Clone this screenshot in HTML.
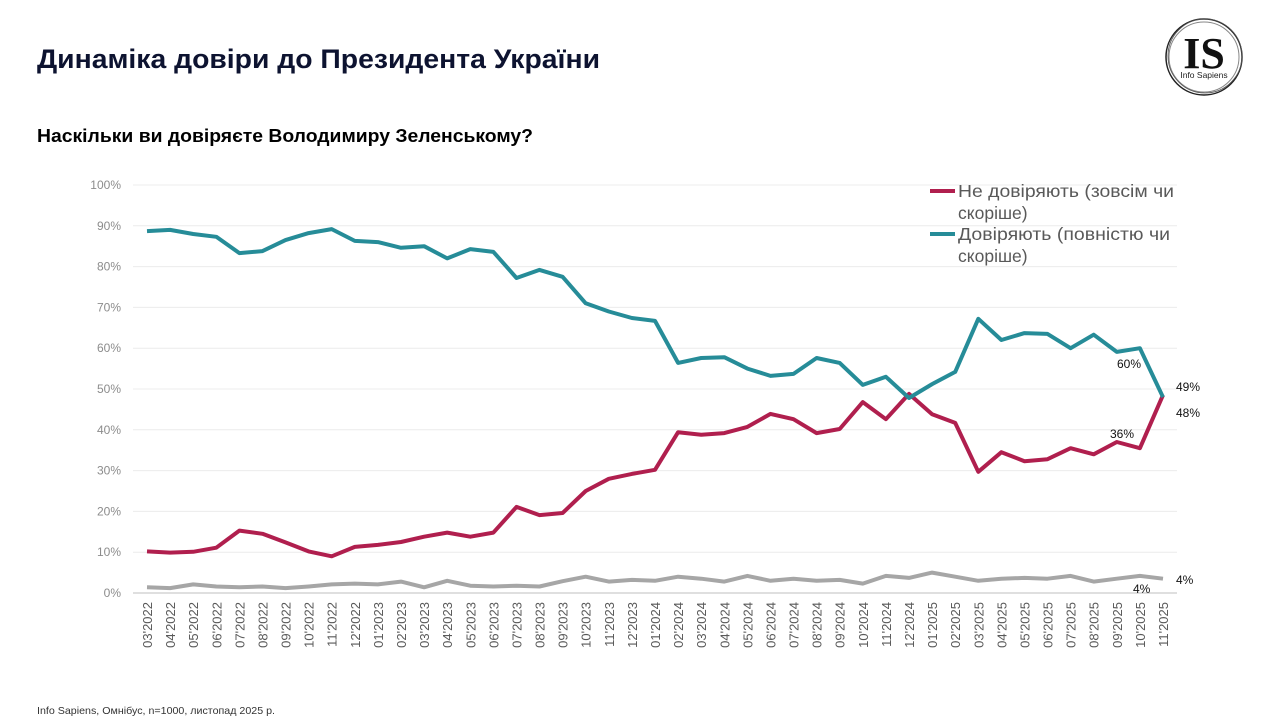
<!DOCTYPE html>
<html><head><meta charset="utf-8"><style>
body{margin:0;background:#fff;}
svg{display:block;font-family:"Liberation Sans",sans-serif;}
</style></head><body>
<svg id="s" width="1280" height="720" viewBox="0 0 1280 720" xmlns="http://www.w3.org/2000/svg">
<text x="37" y="68" font-size="27" font-weight="bold" fill="#0d1330" textLength="563" lengthAdjust="spacingAndGlyphs">Динаміка довіри до Президента України</text>
<text x="37" y="142" font-size="18" font-weight="bold" fill="#000" textLength="496" lengthAdjust="spacingAndGlyphs">Наскільки ви довіряєте Володимиру Зеленському?</text>
<text x="37" y="714" font-size="10.5" fill="#333" textLength="238" lengthAdjust="spacingAndGlyphs">Info Sapiens, Омнібус, n=1000, листопад 2025 р.</text>
<g>
<circle cx="1204" cy="57" r="38" fill="none" stroke="#222" stroke-width="1.5"/>
<circle cx="1204" cy="57" r="35" fill="none" stroke="#888" stroke-width="1"/>
<circle cx="1205" cy="56" r="37" fill="none" stroke="#555" stroke-width="0.8"/>
<text x="1204" y="68" font-family="Liberation Serif,serif" font-size="44" font-weight="bold" text-anchor="middle" fill="#111">IS</text>
<text x="1204" y="78" font-size="8.5" text-anchor="middle" fill="#222">Info Sapiens</text>
</g>
<g id="grid"></g>
<g id="lines"></g>
<g font-size="17.5" fill="#595959">
<line x1="930" y1="191" x2="955" y2="191" stroke="#b01f4e" stroke-width="4"/>
<text x="958" y="197" textLength="216" lengthAdjust="spacingAndGlyphs">Не довіряють (зовсім чи</text>
<text x="958" y="219">скоріше)</text>
<line x1="930" y1="234" x2="955" y2="234" stroke="#268c98" stroke-width="4"/>
<text x="958" y="240" textLength="212" lengthAdjust="spacingAndGlyphs">Довіряють (повністю чи</text>
<text x="958" y="262">скоріше)</text>
</g>
<g font-size="12" fill="#111">
<text x="1117" y="368">60%</text>
<text x="1176" y="391">49%</text>
<text x="1176" y="417">48%</text>
<text x="1110" y="438">36%</text>
<text x="1176" y="584">4%</text>
<text x="1133" y="593">4%</text>
</g>
</svg>
<script>
const NS="http://www.w3.org/2000/svg";
const g=document.getElementById('grid'),L=document.getElementById('lines');
function el(t,a,p,txt){const e=document.createElementNS(NS,t);for(const k in a)e.setAttribute(k,a[k]);if(txt)e.textContent=txt;p.appendChild(e);return e;}
const y=v=>593-v*4.08;
for(let i=0;i<=10;i++){const yy=y(i*10);
 el('line',{x1:133,x2:1177,y1:yy,y2:yy,stroke:i==0?'#bfbfbf':'#ececec','stroke-width':1},g);
 el('text',{x:121,y:yy+4,'font-size':12,fill:'#8c8c8c','text-anchor':'end'},g,(i*10)+'%');}
const labs=[];
for(let m=3;m<=12;m++)labs.push(String(m).padStart(2,'0')+"'2022");
for(let m=1;m<=12;m++)labs.push(String(m).padStart(2,'0')+"'2023");
for(let m=1;m<=12;m++)labs.push(String(m).padStart(2,'0')+"'2024");
for(let m=1;m<=11;m++)labs.push(String(m).padStart(2,'0')+"'2025");
const x=i=>147+i*(1163-147)/44;
labs.forEach((t,i)=>{el('text',{x:0,y:0,'font-size':13,fill:'#595959','text-anchor':'end',transform:`translate(${x(i)+5},602) rotate(-90)`},g,t);});
const teal=[88.7,89,88,87.3,83.3,83.8,86.5,88.2,89.2,86.3,86,84.6,85,82,84.3,83.6,77.2,79.2,77.5,71,69,67.4,66.7,56.4,57.6,57.8,55,53.2,53.7,57.6,56.4,51,53,47.8,51.2,54.2,67.2,62,63.7,63.5,60,63.3,59.1,60,48];
const red=[10.2,9.9,10.1,11.1,15.3,14.5,12.4,10.2,9,11.3,11.8,12.5,13.8,14.8,13.8,14.8,21.1,19.1,19.6,25,28,29.2,30.2,39.4,38.8,39.2,40.7,43.9,42.6,39.2,40.2,46.8,42.6,48.8,43.8,41.7,29.7,34.5,32.3,32.8,35.5,34,37,35.5,48.5];
const gray=[1.4,1.2,2.1,1.6,1.4,1.6,1.2,1.6,2.1,2.3,2.1,2.8,1.4,3,1.8,1.6,1.8,1.6,2.9,4,2.8,3.2,3,4,3.5,2.8,4.2,3,3.5,3,3.2,2.3,4.2,3.7,5,4,3,3.5,3.7,3.5,4.2,2.8,3.5,4.2,3.5];
[[gray,'#a6a6a6'],[red,'#b01f4e'],[teal,'#268c98']].forEach(([d,c])=>{
 el('polyline',{points:d.map((v,i)=>x(i).toFixed(1)+','+y(v).toFixed(1)).join(' '),fill:'none',stroke:c,'stroke-width':4,'stroke-linejoin':'round'},L);});
</script>
</body></html>
